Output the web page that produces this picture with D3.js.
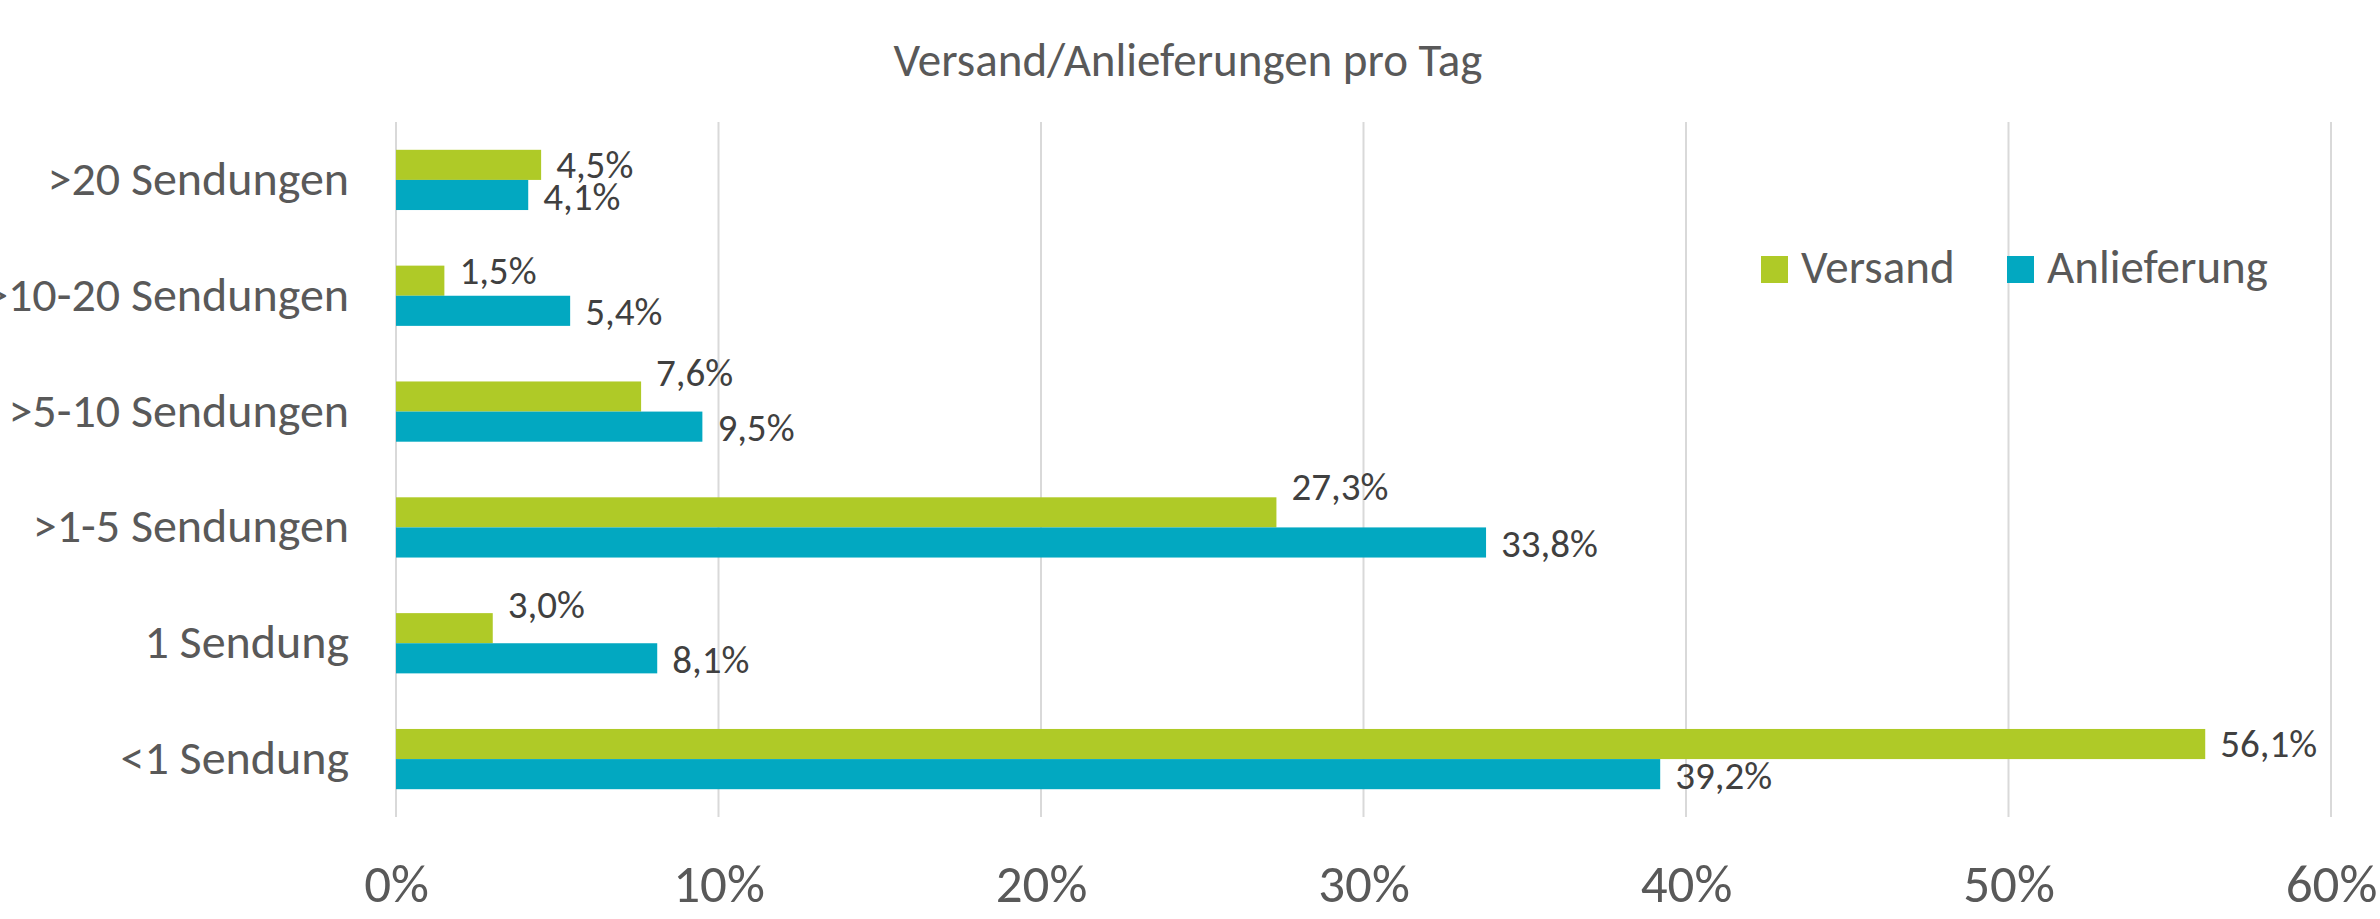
<!DOCTYPE html>
<html>
<head>
<meta charset="utf-8">
<script src="https://cdn.jsdelivr.net/npm/d3@7"></script>
<style>
  html, body { margin: 0; padding: 0; background: #ffffff; }
  svg { display: block; }
  text { font-family: Carlito, Lato, "Open Sans", sans-serif; }
</style>
</head>
<body>
<svg id="chart" width="2380" height="919"></svg>
<script>
// ---- data ----
const title = "Versand/Anlieferungen pro Tag";
const categories = [">20 Sendungen", ">10-20 Sendungen", ">5-10 Sendungen", ">1-5 Sendungen", "1 Sendung", "<1 Sendung"];
const seriesNames = ["Versand", "Anlieferung"];
const versand = [4.5, 1.5, 7.6, 27.3, 3.0, 56.1];
const anlieferung = [4.1, 5.4, 9.5, 33.8, 8.1, 39.2];
const xTickValues = [0, 10, 20, 30, 40, 50, 60];

// ---- style / layout ----
const colors = ["#AFCA27", "#02A8C1"];
const textColor = "#595959";
const labelColor = "#404040";
const gridColor = "#D9D9D9";
// manual vertical nudges of the value labels (px), as in the original
const labelNudge = [[0, -10, -24, -25, -23, 0], [2, 1, 1, 2, 2, 2]];

const svg = d3.select("#chart");
const plot = { left: 396, right: 2331, top: 122, bottom: 817 };

const x = d3.scaleLinear().domain([0, 60]).range([plot.left, plot.right]);
const y = d3.scaleBand().domain(categories).range([plot.top, plot.bottom])
  .paddingInner(0.48).paddingOuter(0.24);
const ySub = d3.scaleBand().domain(seriesNames).range([0, y.bandwidth()]);

const dec = d3.formatLocale({ decimal: ",", thousands: ".", grouping: [3], currency: ["", "€"] }).format(".1f");

// gridlines
svg.append("g").selectAll("line").data(xTickValues).join("line")
  .attr("x1", d => x(d)).attr("x2", d => x(d))
  .attr("y1", plot.top).attr("y2", plot.bottom)
  .attr("stroke", gridColor).attr("stroke-width", 2);

// x axis (labels only)
const xAxis = d3.axisBottom(x).tickValues(xTickValues).tickFormat(d => d + "%").tickSize(0).tickPadding(0);
const gx = svg.append("g").attr("transform", `translate(0,${plot.bottom})`).call(xAxis);
gx.select(".domain").remove();
gx.selectAll("text")
  .attr("y", 85).attr("dy", null)
  .attr("fill", textColor).style("font-size", "53px")
  .style("font-family", "Carlito, Lato, 'Open Sans', sans-serif");

// y axis (labels only)
const yAxis = d3.axisLeft(y).tickSize(0).tickPadding(0);
const gy = svg.append("g").attr("transform", `translate(349,0)`).call(yAxis);
gy.select(".domain").remove();
gy.selectAll("text")
  .attr("x", 0).attr("dy", null).attr("y", 15)
  .attr("fill", textColor).style("font-size", "48px")
  .style("font-family", "Carlito, Lato, 'Open Sans', sans-serif");

// bars
const series = [versand, anlieferung];
series.forEach((vals, si) => {
  const g = svg.append("g");
  g.selectAll("rect").data(vals).join("rect")
    .attr("x", x(0))
    .attr("y", (d, i) => y(categories[i]) + ySub(seriesNames[si]))
    .attr("width", d => x(d) - x(0))
    .attr("height", ySub.bandwidth())
    .attr("fill", colors[si]);
  g.selectAll("text").data(vals).join("text")
    .attr("x", d => x(d) + 15)
    .attr("y", (d, i) => y(categories[i]) + ySub(seriesNames[si]) + ySub.bandwidth() / 2 + 13 + labelNudge[si][i])
    .attr("fill", labelColor)
    .style("font-size", "39px")
    .text(d => dec(d) + "%");
});

// title
svg.append("text")
  .attr("x", 1188).attr("y", 76)
  .attr("text-anchor", "middle")
  .attr("fill", textColor)
  .style("font-size", "47px")
  .text(title);

// legend
const legendX = [1761, 2007];
const lg = svg.append("g");
seriesNames.forEach((name, i) => {
  lg.append("rect").attr("x", legendX[i]).attr("y", 256).attr("width", 27).attr("height", 27).attr("fill", colors[i]);
  lg.append("text").attr("x", legendX[i] + 40).attr("y", 283)
    .attr("fill", textColor).style("font-size", "47px").text(name);
});
</script>
</body>
</html>
